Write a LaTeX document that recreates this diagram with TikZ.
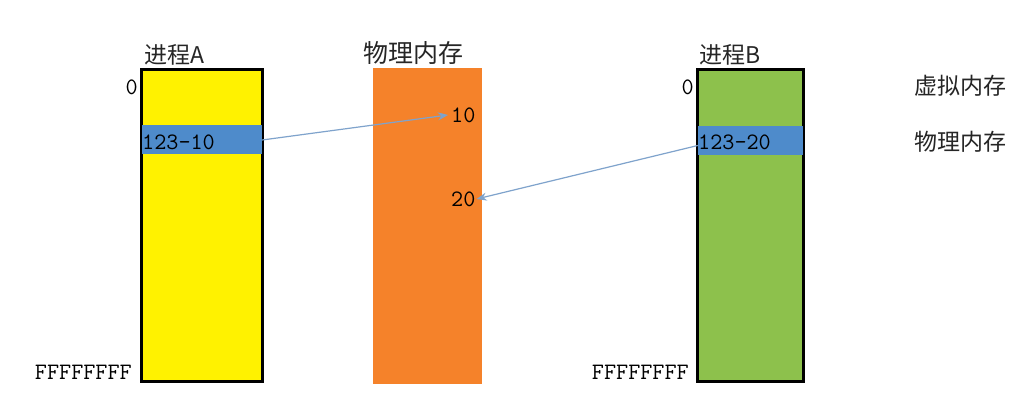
\documentclass[tikz,border=0pt]{standalone}
\usepackage{fontspec}
\newfontfamily\cjk{Noto Sans CJK SC}
\usetikzlibrary{arrows.meta}
\definecolor{yel}{HTML}{FFF200}
\definecolor{org}{HTML}{F5822A}
\definecolor{grn}{HTML}{8DC14C}
\definecolor{bnd}{HTML}{4E8BCB}
\definecolor{arr}{HTML}{7FA3CC}
\tikzset{
  col/.style={rectangle, inner sep=0pt, minimum width=#1},
  frame/.style={draw=black, line width=3pt},
  band/.style={rectangle, inner sep=0pt, fill=bnd, minimum height=29},
  num/.style={inner sep=0pt, font=\ttfamily\fontsize{23.5}{23.5}\selectfont, text=black},
  lab/.style={inner sep=0pt, font=\cjk\fontsize{23}{23}\selectfont, text=black!85},
  link/.style={draw=arr, line width=1.2pt, -{Stealth[length=10pt,width=8pt]}}
}
\begin{document}
\begin{tikzpicture}[x=1pt,y=-1pt]
\useasboundingbox (0,0) rectangle (1034,419);
\fill[white] (0,0) rectangle (1034,419);
% columns
\node[col=121, minimum height=312, fill=yel, frame] (A) at (202,225.5) {};
\node[col=109, minimum height=316, fill=org] (P) at (427.5,226) {};
\node[col=106, minimum height=312, fill=grn, frame] (B) at (750.5,225.5) {};
% bands
\node[band, minimum width=120] (bA) at (202,140) {};
\node[band, minimum width=105] (bB) at (750.5,140.5) {};
% band texts
\node[num, anchor=west] (tA) at (142,142) {123-10};
\node[num, anchor=west] (tB) at (698,142) {123-20};
% physical addresses
\node[num, anchor=west] (t10) at (451,115) {10};
\node[num, anchor=west] (t20) at (451,199) {20};
% titles
\node[lab, anchor=west] (hA) at (144,55) {进程A};
\node[lab, anchor=west, font=\cjk\fontsize{25}{25}\selectfont] (hP) at (363,53) {物理内存};
\node[lab, anchor=west] (hB) at (699,55) {进程B};
% address bounds
\node[num, anchor=east] (zA) at (138,87) {0};
\node[num, anchor=east] (zB) at (694,87) {0};
\node[num, anchor=east] (fA) at (132,372) {FFFFFFFF};
\node[num, anchor=east] (fB) at (689,372) {FFFFFFFF};
% legend
\node[lab, anchor=west] (v1) at (914,86) {虚拟内存};
\node[lab, anchor=west] (v2) at (914,142) {物理内存};
% arrows
\draw[link] (bA.east) -- ([xshift=-3pt]t10.west);
\draw[link] ([yshift=-5pt]bB.west) -- ([xshift=1pt]t20.east);
\end{tikzpicture}
\end{document}
